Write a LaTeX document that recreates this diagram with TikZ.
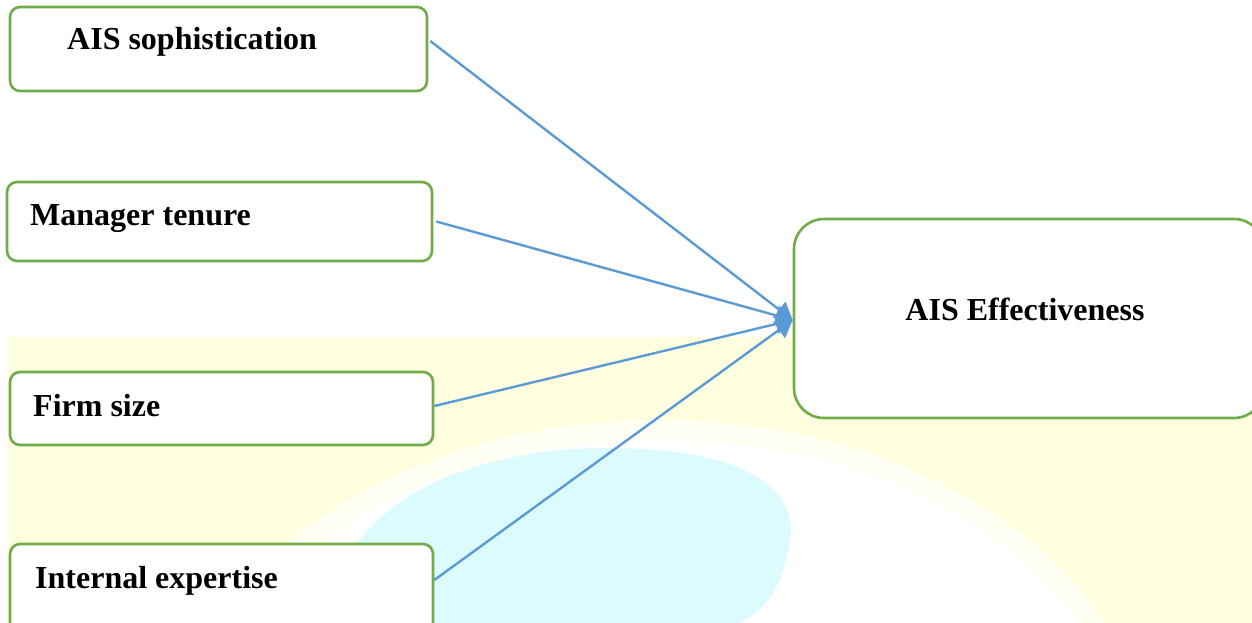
\documentclass[tikz,border=0pt]{standalone}
\usepackage{fontspec}
\setmainfont{Liberation Serif}
\usetikzlibrary{arrows.meta}
\definecolor{boxgreen}{HTML}{70AD47}
\definecolor{arrowblue}{HTML}{5B9BD5}
\definecolor{bgyellow}{HTML}{FFFFE0}
\definecolor{bgcyan}{HTML}{DCFBFF}
\tikzset{
  box/.style={draw=boxgreen, line width=2.6pt, fill=white, rounded corners=10pt, inner sep=0pt},
  bigbox/.style={box, rounded corners=30pt},
  lbl/.style={font=\fontsize{32}{37}\selectfont\bfseries, inner sep=0pt},
  link/.style={draw=arrowblue, line width=2.4pt, -{Triangle[length=17pt,width=20pt]}}
}
\begin{document}
\begin{tikzpicture}[x=1pt,y=-1pt]
\useasboundingbox (0,0) rectangle (1252,623);
% background watermark
\fill[bgyellow] (8,337) rectangle (1252,623);
\fill[white!60!bgyellow] (660,770) ellipse [x radius=490, y radius=350];
\fill[white] (660,775) ellipse [x radius=470, y radius=335];
\fill[bgcyan] (330,623) .. controls (330,560) and (380,470) .. (560,450)
  .. controls (700,440) and (800,470) .. (790,540)
  .. controls (780,600) and (760,610) .. (740,623) -- cycle;
% boxes
\node[box, minimum width=417pt, minimum height=84pt] (b1) at (218.5,49) {};
\node[box, minimum width=425pt, minimum height=79pt] (b2) at (219.5,221.5) {};
\node[box, minimum width=423pt, minimum height=73pt] (b3) at (221.5,408.5) {};
\node[box, minimum width=423pt, minimum height=100pt] (b4) at (221.5,594) {};
\node[bigbox, minimum width=470pt, minimum height=199pt] (e) at (1029,318.5) {};
% labels
\node[lbl, anchor=base west] (t1) at (67,50) {AIS sophistication};
\node[lbl, anchor=base west] (t2) at (30,225) {Manager tenure};
\node[lbl, anchor=base west] (t3) at (33,416) {Firm size};
\node[lbl, anchor=base west] (t4) at (35,588) {Internal expertise};
\node[lbl] (te) at (1025,309) {AIS Effectiveness};
% connectors
\draw[link] ([xshift=2pt,yshift=8pt]b1.east) -- ([yshift=-1.5pt]e.west);
\draw[link] ([xshift=3pt]b2.east) -- ([yshift=-1.5pt]e.west);
\draw[link] ([yshift=2.5pt]b3.east) -- ([yshift=-1.5pt]e.west);
\draw[link] ([yshift=14pt]b4.east) -- ([yshift=-1.5pt]e.west);
\end{tikzpicture}
\end{document}
